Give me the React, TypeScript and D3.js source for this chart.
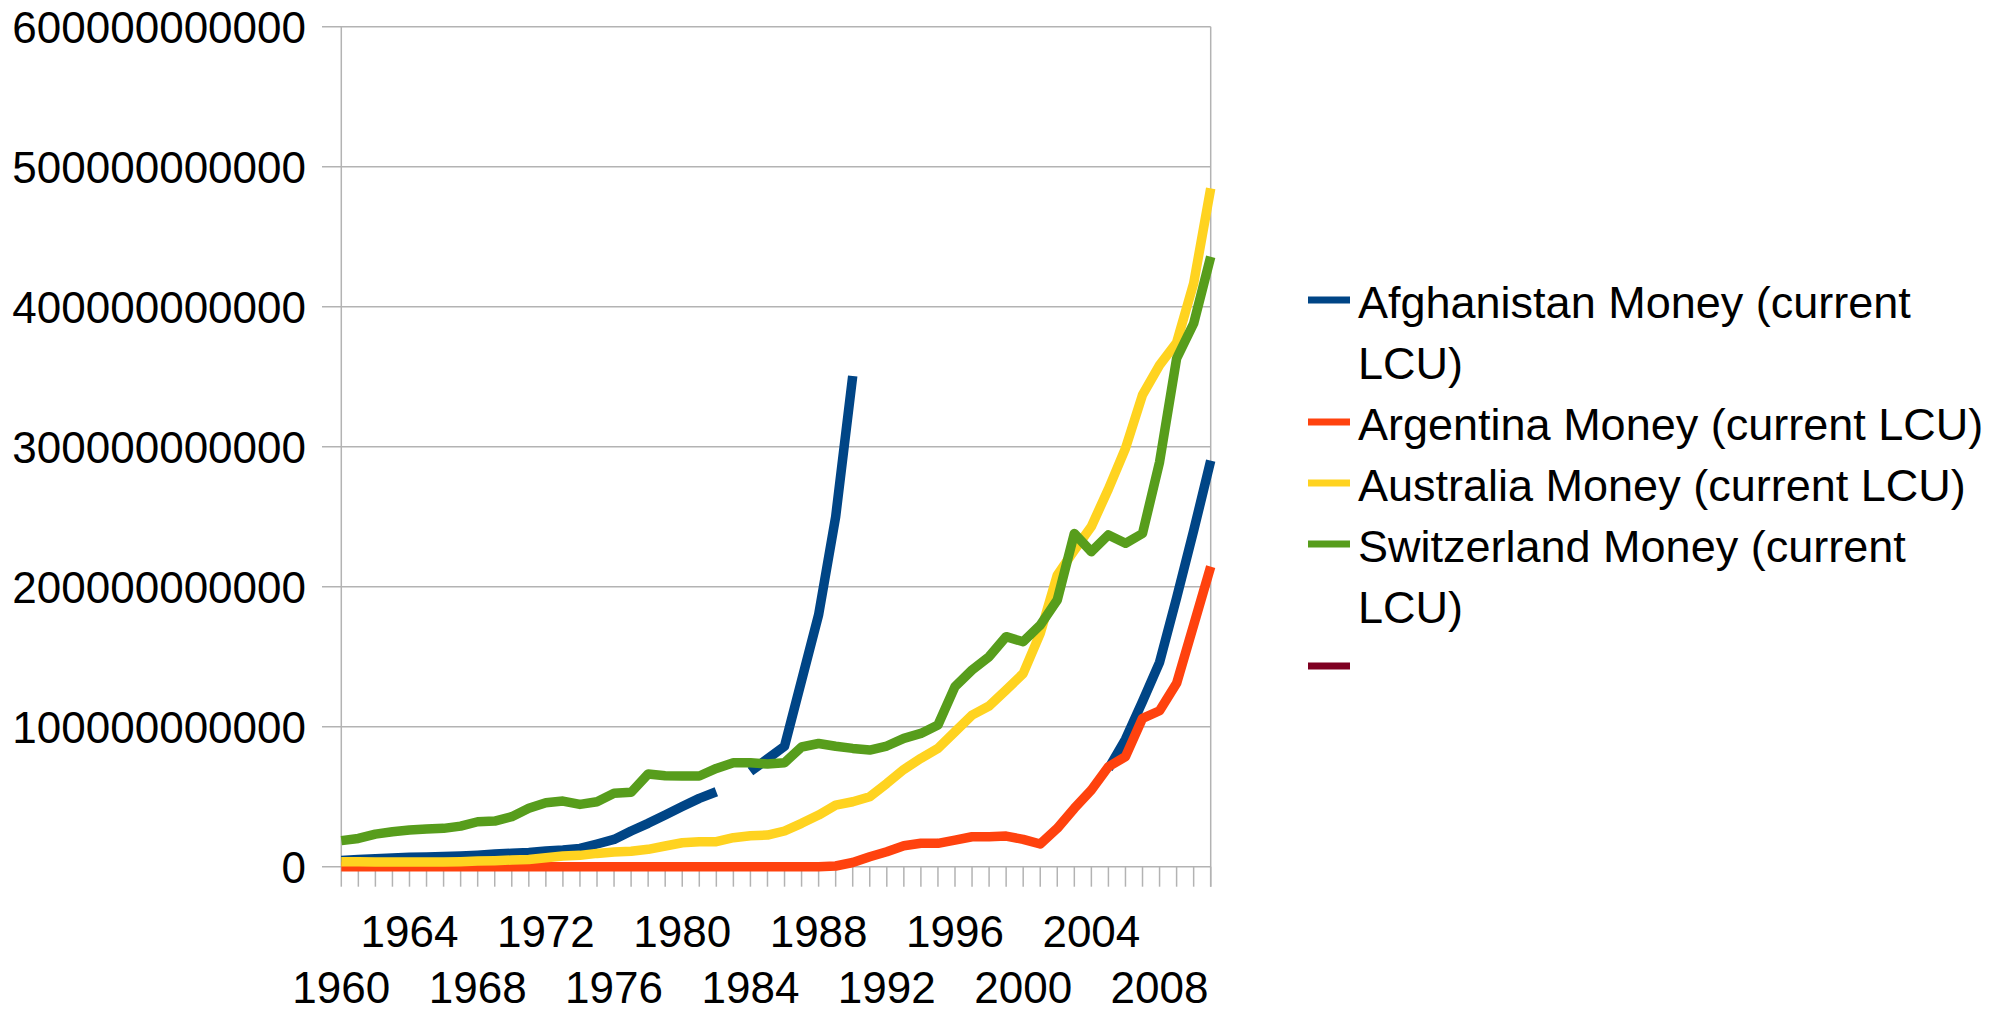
import React from "react";
import * as d3 from "d3";

// years on the category axis (1960 .. 2011)
const years = d3.range(1960, 2012);

// money, billions of current LCU (null = no data)
const afghanistan = [
  4.5, 5.2, 5.6, 6.2, 6.7, 7, 7.2, 7.6, 8.2, 9, 9.6, 10.2, 11.2, 11.9, 13.1, 16.2,
  19.5, 25.5, 31, 37, 43, 48.8, 53.5, null, 68, 77, 86, 133, 180, 250, 350.5,
  null, null, null, null, null, null, null, null, null, null, null, null, null, null,
  70, 91, 118, 146, 192, 240, 290,
];
const argentina = [
  0, 0, 0, 0, 0, 0, 0, 0, 0, 0, 0, 0, 0, 0, 0, 0, 0, 0, 0, 0, 0, 0, 0, 0, 0, 0, 0, 0, 0,
  0.5, 3, 7.1, 10.7, 15, 16.7, 16.7, 19, 21.4, 21.4, 21.9, 19.5, 16.2, 27.4, 41.7,
  54.8, 71.4, 78.6, 106, 111.4, 131, 172.6, 214.3,
];
const australia = [
  3.6, 3.6, 3.3, 3.3, 3.3, 3.3, 3.3, 3.6, 4, 4.3, 4.8, 5.2, 6.4, 7.6, 8.1, 9.5,
  10.5, 11, 12.4, 14.8, 17.1, 17.9, 17.9, 20.7, 22.1, 22.6, 25.5, 31, 36.9, 44,
  46.4, 50, 59.5, 69.5, 77.4, 84.5, 96.4, 108.3, 114.8, 126.2, 138, 166.7, 208.3,
  226, 243, 269.8, 298.8, 337, 358.3, 374.3, 416.7, 484.5,
];
const switzerland = [
  18.6, 20.2, 23.3, 25, 26.2, 26.9, 27.4, 29, 32.1, 32.6, 35.7, 41.7, 45.7, 46.9,
  44.5, 46.4, 52.4, 53.1, 66.2, 65, 64.8, 64.8, 70.2, 74.3, 74.3, 73.3, 74.3, 85.5,
  88, 86, 84.5, 83.3, 86.2, 91.7, 95.2, 101.2, 128.6, 140.5, 150, 164.3, 160.7,
  172.6, 190.5, 238, 225, 237, 231, 238, 289, 363, 388, 435.7,
];

const seriesNames = [
  ["Afghanistan Money (current", "LCU)"],
  ["Argentina Money (current LCU)"],
  ["Australia Money (current LCU)"],
  ["Switzerland Money (current", "LCU)"],
  [""],
];
const seriesColors = ["#004586", "#ff420e", "#ffd320", "#579d1c", "#7e0021"];
const seriesData = [afghanistan, argentina, australia, switzerland];

const labelEvery = 4;

export default function App() {
  const W = 2003;
  const H = 1011;
  const left = 341.3;
  const right = 1210.7;
  const top = 26.7;
  const bottom = 866.7;
  const font = "'Liberation Sans', Arial, sans-serif";

  const x = d3.scalePoint<number>().domain(years).range([left, right]);
  const y = d3.scaleLinear().domain([0, 600]).range([bottom, top]);
  const yTicks = y.ticks(6);

  const line = d3
    .line<number | null>()
    .defined((d) => d != null)
    .x((_, i) => x(years[i]) as number)
    .y((d) => y(d as number));

  // legend rows: one baseline step per text line
  const legendX = 1308;
  const legendTextX = 1358;
  const rowStep = 61;
  let row = 0;
  const legendRows = seriesNames.map((lines, k) => {
    const first = 318 + rowStep * row;
    row += lines.length;
    return { lines, first, color: seriesColors[k] };
  });

  return (
    <svg
      width={W}
      height={H}
      style={{ position: "absolute", left: 0, top: 0, background: "#fff" }}
      fontFamily={font}
    >
      {/* grid */}
      {yTicks.map((t) => (
        <line key={t} x1={322} x2={right} y1={y(t)} y2={y(t)} stroke="#b3b3b3" strokeWidth={1.5} />
      ))}
      <line x1={left} x2={left} y1={top} y2={bottom} stroke="#b3b3b3" strokeWidth={1.5} />
      <line x1={right} x2={right} y1={top} y2={bottom + 20} stroke="#b3b3b3" strokeWidth={1.5} />
      {years.map((yr) => (
        <line key={yr} x1={x(yr)} x2={x(yr)} y1={bottom} y2={bottom + 20} stroke="#b3b3b3" strokeWidth={1.5} />
      ))}

      {/* y labels */}
      {yTicks.map((t) => (
        <text key={t} x={306} y={y(t)} dy="0.36em" textAnchor="end" fontSize={44} fill="#000">
          {d3.format("d")(t * 1e9)}
        </text>
      ))}

      {/* x labels, staggered */}
      {years
        .filter((yr) => (yr - years[0]) % labelEvery === 0)
        .map((yr, k) => (
          <text
            key={yr}
            x={x(yr)}
            y={k % 2 === 0 ? 1003 : 946.7}
            textAnchor="middle"
            fontSize={44}
            fill="#000"
          >
            {yr}
          </text>
        ))}

      {/* series */}
      {seriesData.map((s, k) => (
        <path
          key={k}
          d={line(s) || ""}
          fill="none"
          stroke={seriesColors[k]}
          strokeWidth={9.5}
          strokeLinejoin="round"
          strokeLinecap="butt"
        />
      ))}

      {/* legend */}
      {legendRows.map((r, k) => (
        <g key={k}>
          <rect x={legendX} y={r.first - 18 - 3.5} width={42} height={7} fill={r.color} />
          {r.lines.map((t, j) => (
            <text key={j} x={legendTextX} y={r.first + j * rowStep} fontSize={45} fill="#000">
              {t}
            </text>
          ))}
        </g>
      ))}
    </svg>
  );
}
